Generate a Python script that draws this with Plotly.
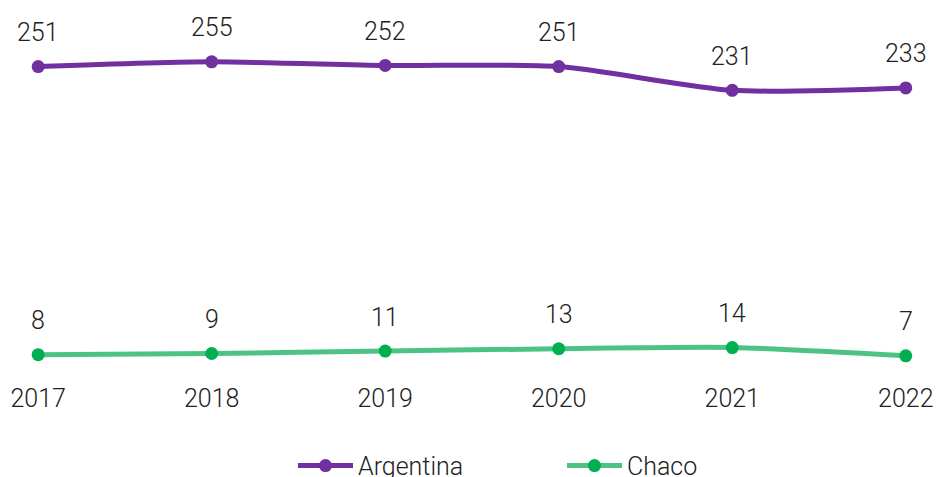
import plotly.graph_objects as go

years = [2017, 2018, 2019, 2020, 2021, 2022]
argentina = [251, 255, 252, 251, 231, 233]
chaco = [8, 9, 11, 13, 14, 7]

purple = '#7030A0'
green_line = '#4CC385'
green_marker = '#00B050'

font_family = 'Roboto'

fig = go.Figure()

fig.add_trace(go.Scatter(
    x=years, y=argentina,
    mode='lines+markers',
    name='Argentina',
    line=dict(color=purple, width=5, shape='spline', smoothing=0.7),
    marker=dict(size=13, color=purple),
))

fig.add_trace(go.Scatter(
    x=years, y=chaco,
    mode='lines+markers',
    name='Chaco',
    line=dict(color=green_line, width=5, shape='spline', smoothing=0.7),
    marker=dict(size=13, color=green_marker),
))

# etiquetas de datos sobre cada punto
for serie in (argentina, chaco):
    for x, y in zip(years, serie):
        fig.add_annotation(
            x=x, y=y, text=str(y),
            showarrow=False, yshift=34,
            font=dict(family=font_family, size=25, color='#222222', weight=300),
        )

fig.update_layout(
    width=937, height=477,
    margin=dict(l=0, r=0, t=50, b=101, autoexpand=False),
    plot_bgcolor='white',
    paper_bgcolor='white',
    font=dict(family=font_family, size=25, color='#222222', weight=300),
    xaxis=dict(range=[2016.78, 2022.18], tickmode='array', tickvals=years,
               ticktext=[str(y) for y in years], showgrid=False, zeroline=False,
               showline=False, ticks='', ticklabelstandoff=5, automargin=False),
    yaxis=dict(range=[-10, 265], visible=False, showgrid=False, zeroline=False,
               automargin=False),
    showlegend=True,
    legend=dict(orientation='h', x=293 / 937, xanchor='left', y=-0.205, yanchor='top',
                font=dict(size=25), itemwidth=55, entrywidth=199,
                entrywidthmode='pixels', tracegroupgap=0),
)

# sin margen del body para que la figura empiece en (0, 0)
fig.write_html("out.html", config={'displayModeBar': False},
               post_script="document.body.style.margin='0';")
